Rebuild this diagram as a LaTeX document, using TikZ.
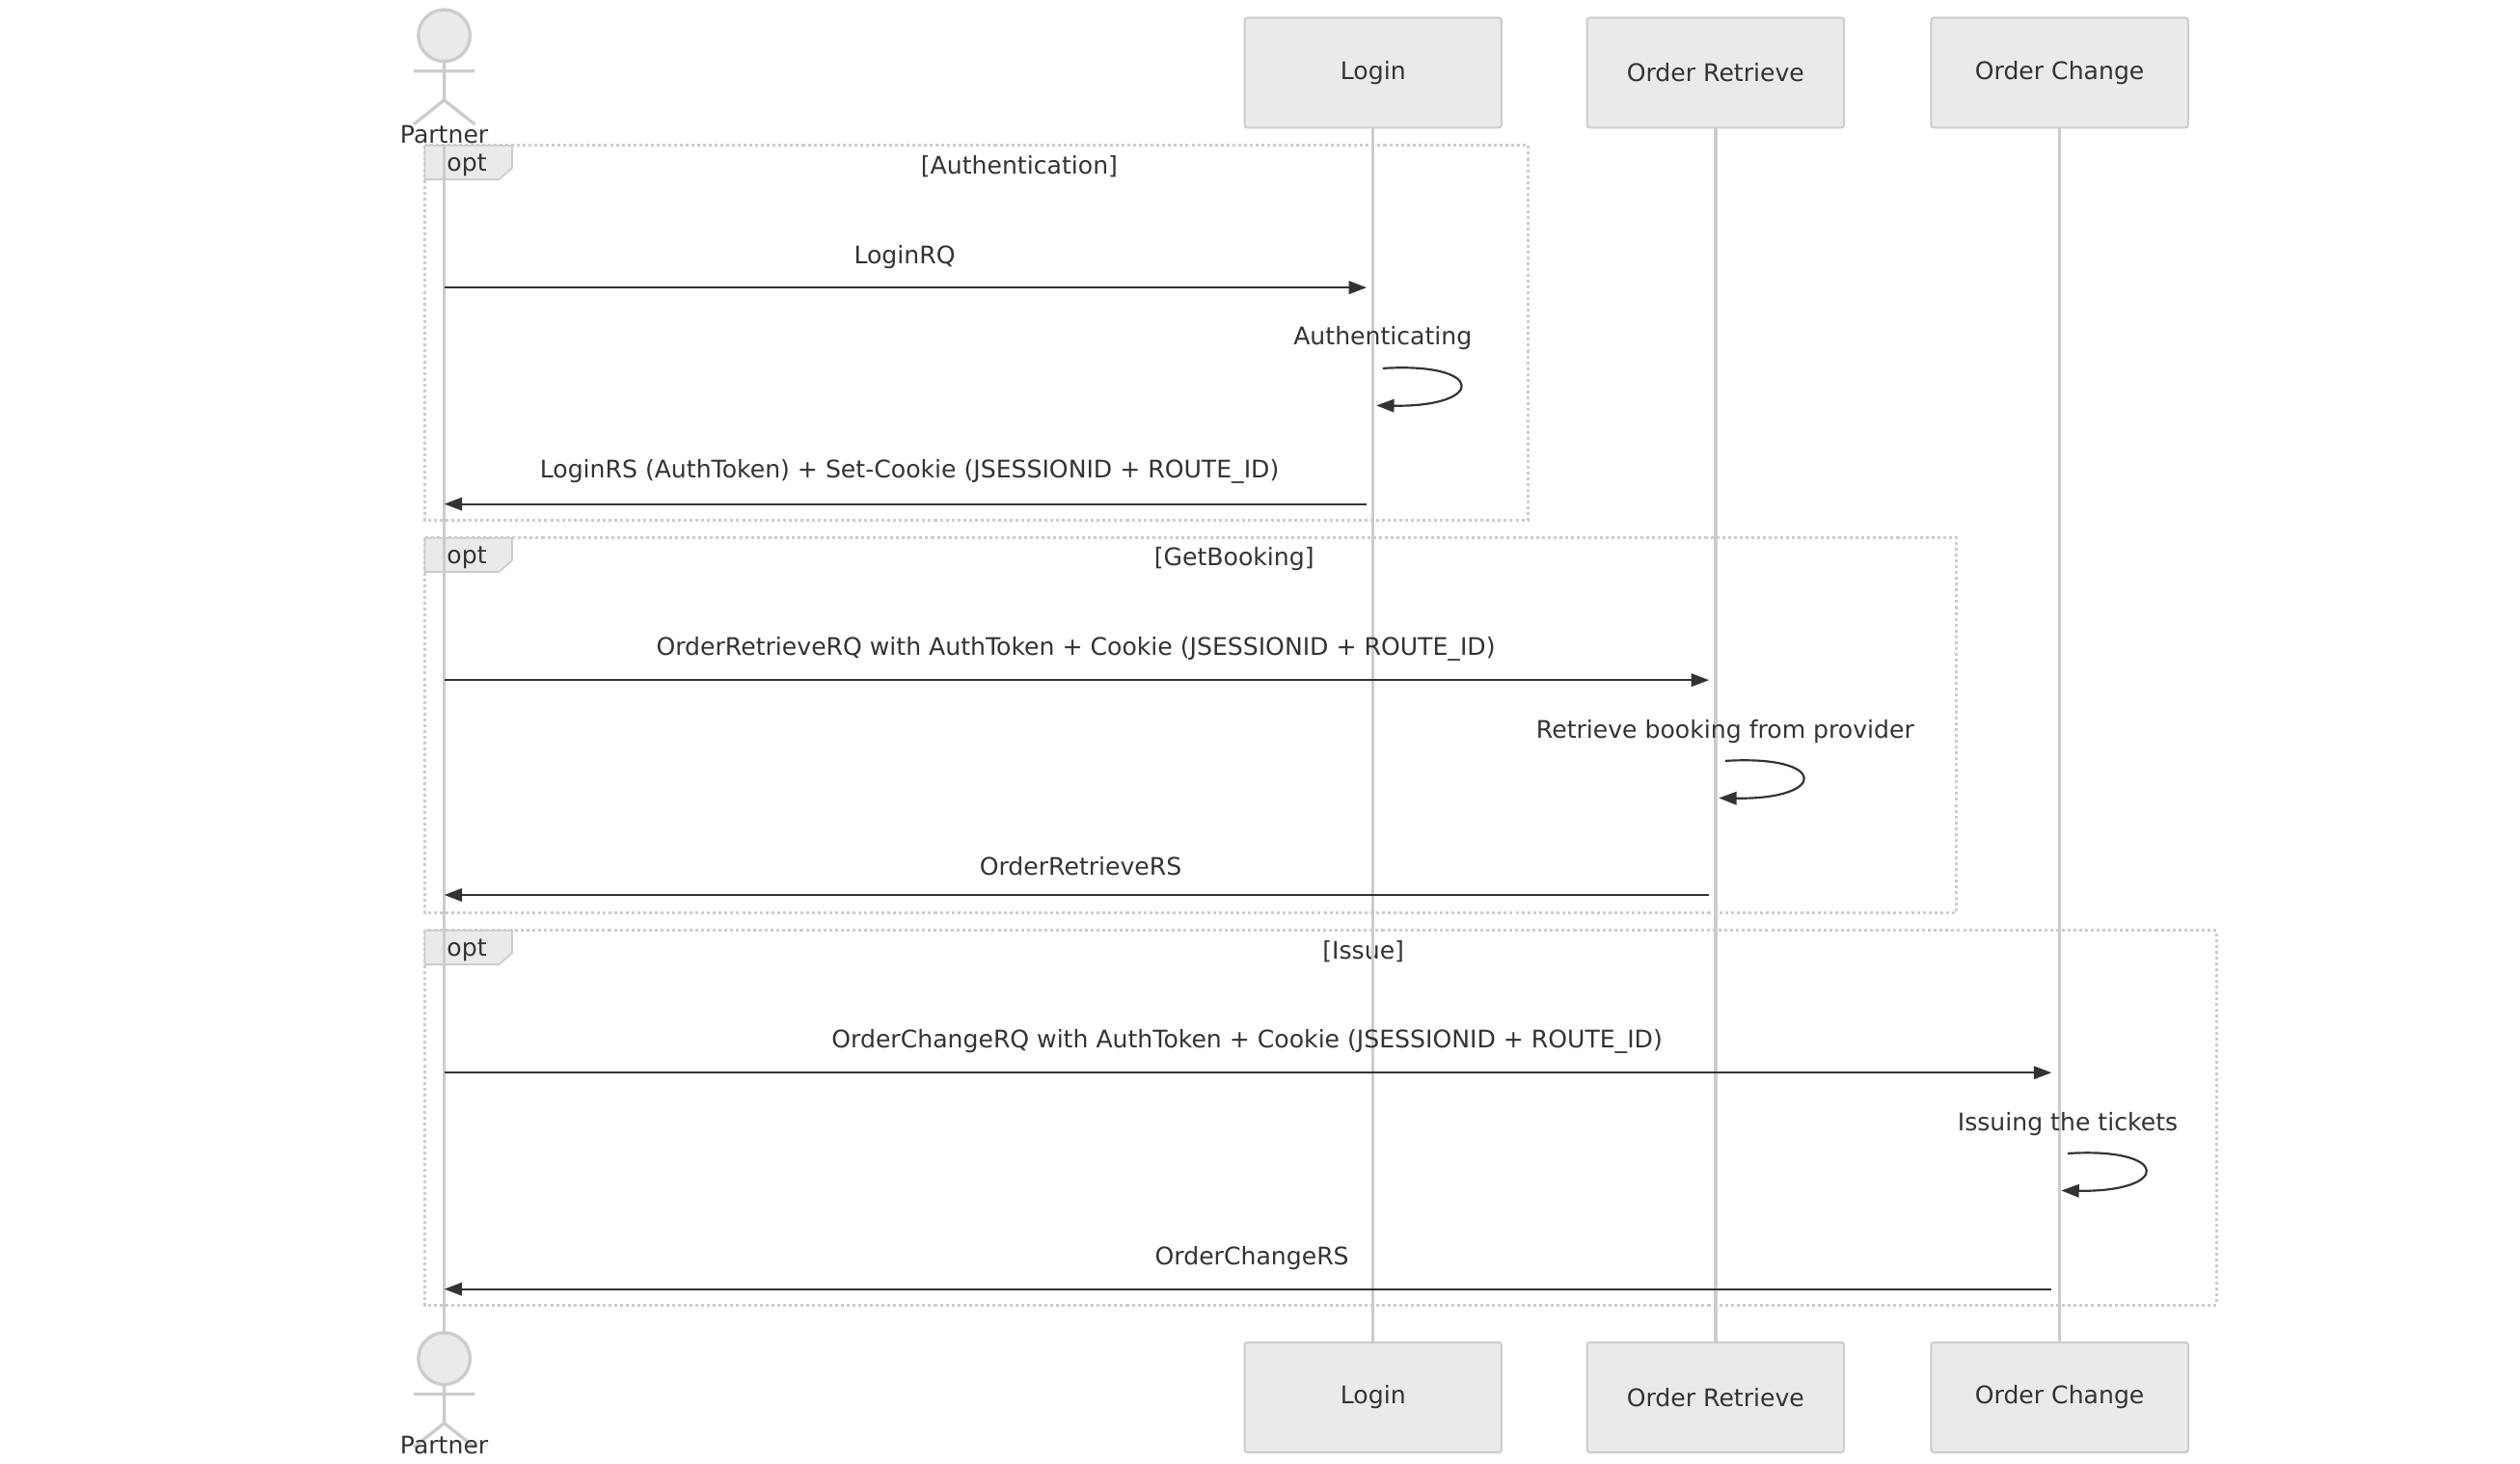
\documentclass[tikz,border=0pt]{standalone}
\usepackage{fontspec}
\setmainfont{DejaVu Sans}
\usetikzlibrary{arrows.meta}
\definecolor{lg}{HTML}{CCCCCC}
\definecolor{bx}{HTML}{EAEAEA}
\definecolor{dk}{HTML}{333333}
\begin{document}
\begin{tikzpicture}[x=1pt,y=-1pt,
  every node/.style={font=\fontsize{15}{18}\selectfont, text=dk, inner sep=0},
  box/.style={draw=lg, fill=bx, line width=1.2pt, minimum width=159pt, minimum height=68pt, rounded corners=1.5pt},
  life/.style={draw=lg, line width=2pt},
  msg/.style={draw=dk, line width=1.3pt, -{Triangle[length=11pt,width=8pt]}},
  frame/.style={draw=lg, line width=1.8pt, dash pattern=on 1.8pt off 1.8pt},
  actor/.style={draw=lg, line width=2pt}]
\useasboundingbox (0,0) rectangle (1560,906);
% frames
\foreach \y/\x/\t/\tx in {90/946/[Authentication]/631, 333/1211/[GetBooking]/764, 576/1372/[Issue]/844}{
  \draw[frame] (263,\y) rectangle (\x,\y+232);
  \draw[fill=bx, draw=lg, line width=1pt] (263,\y) -- (317,\y) -- (317,\y+14) -- (309,\y+21) -- (263,\y+21) -- cycle;
  \node at (289,\y+12) {opt};
  \node at (\tx,\y+13) {\t};
}
% lifelines
\coordinate (pt) at (275,90); \coordinate (pb) at (275,825);
\draw[life] (pt) -- (pb);
\node[box] (l1) at (850,45) {Login};
\node[box] (r1) at (1062,45) {Order Retrieve};
\node[box] (c1) at (1275,45) {Order Change};
\node[box] (l2) at (850,865) {Login};
\node[box] (r2) at (1062,865) {Order Retrieve};
\node[box] (c2) at (1275,865) {Order Change};
\draw[life] (l1) -- (l2); \draw[life] (r1) -- (r2); \draw[life] (c1) -- (c2);
% actors
\foreach \y/\n in {0/a1, 819/a2}{
  \draw[actor, fill=bx] (275,\y+22) circle (16);
  \draw[actor] (275,\y+38) -- (275,\y+62) (256,\y+44) -- (294,\y+44) (256,\y+77) -- (275,\y+62) -- (294,\y+77);
}
\node at (275,83) {Partner};
\node[anchor=base] at (275,900) {Partner};
% messages
\node at (560,159) {LoginRQ};
\draw[msg] (275,178) -- (846,178);
\node at (856,209) {Authenticating};
\draw[msg] (856,228) .. controls (920,224) and (920,252) .. (852,251);
\node at (563,292) {LoginRS (AuthToken) + Set-Cookie (JSESSIONID + ROUTE\_ID)};
\draw[msg] (846,312) -- (275,312);
\node at (666,402) {OrderRetrieveRQ with AuthToken + Cookie (JSESSIONID + ROUTE\_ID)};
\draw[msg] (275,421) -- (1058,421);
\node at (1068,453) {Retrieve booking from provider};
\draw[msg] (1068,471) .. controls (1132,467) and (1132,495) .. (1064,494);
\node at (669,536) {OrderRetrieveRS};
\draw[msg] (1058,554) -- (275,554);
\node at (772,645) {OrderChangeRQ with AuthToken + Cookie (JSESSIONID + ROUTE\_ID)};
\draw[msg] (275,664) -- (1270,664);
\node at (1280,696) {Issuing the tickets};
\draw[msg] (1280,714) .. controls (1344,710) and (1344,738) .. (1276,737);
\node at (775,779) {OrderChangeRS};
\draw[msg] (1270,798) -- (275,798);
\end{tikzpicture}
\end{document}
